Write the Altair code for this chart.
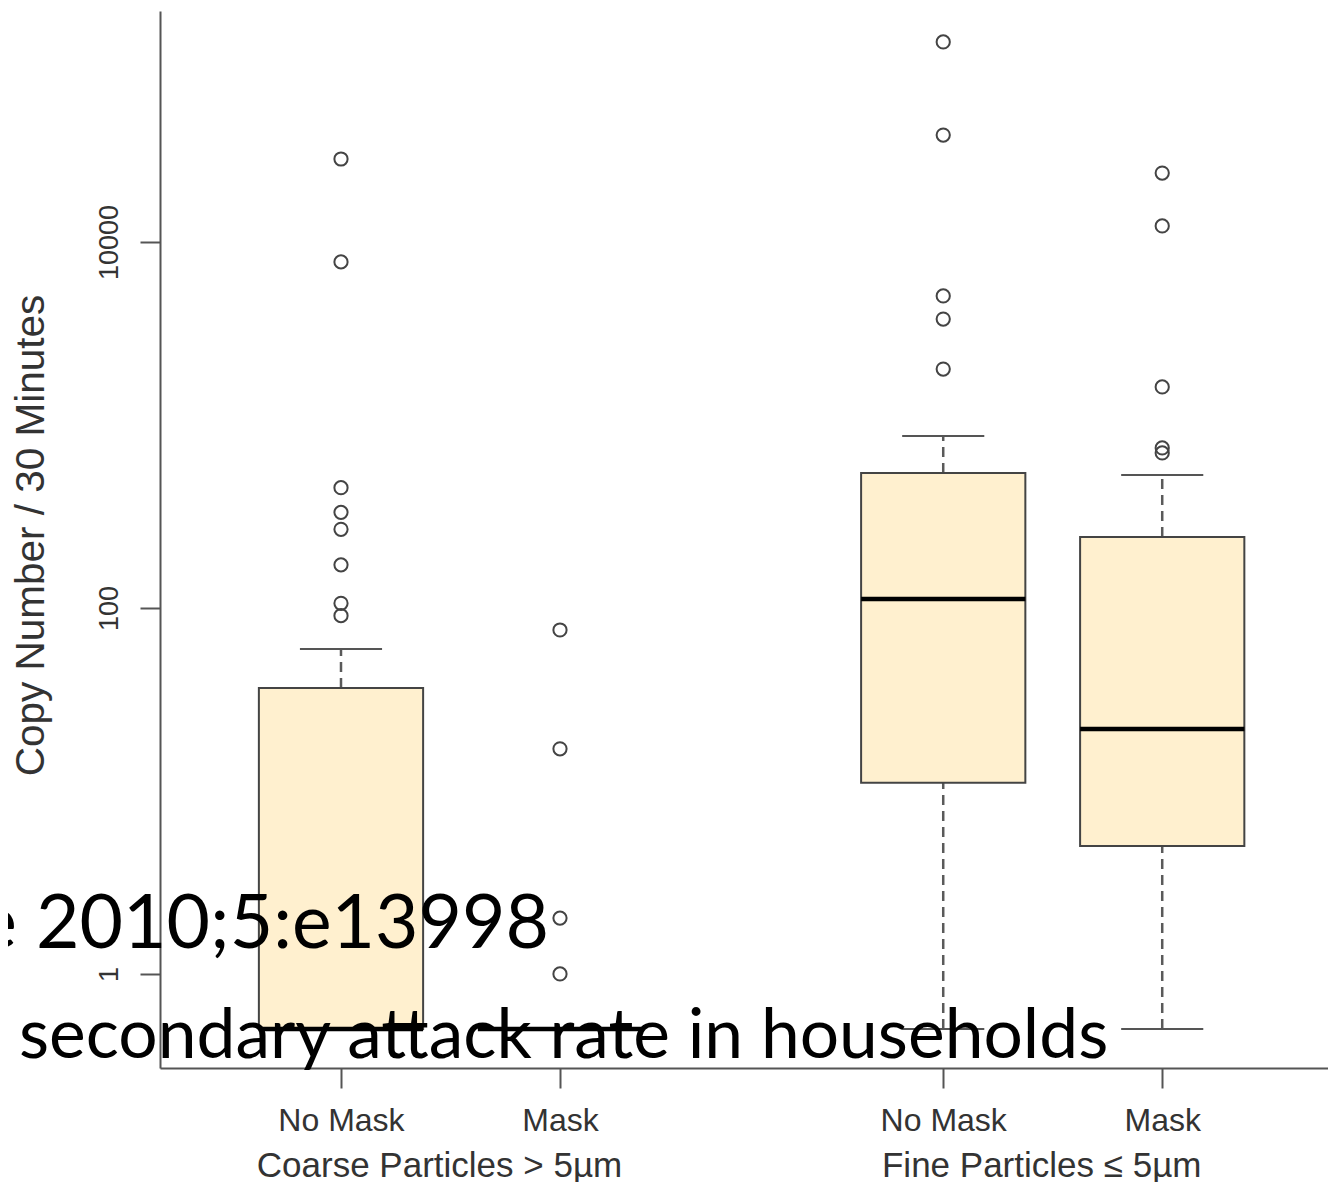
import altair as alt
import pandas as pd

# ---------------- data ----------------
groups = ["Coarse No Mask", "Coarse Mask", "Fine No Mask", "Fine Mask"]
positions = [1, 2, 3.75, 4.75]
tick_labels = ["No Mask", "Mask", "No Mask", "Mask"]
particle_labels = ["Coarse Particles > 5\u00b5m", "Fine Particles \u2264 5\u00b5m"]
particle_centers = [1.5, 4.25]

whisker_low = [0.5, 0.5, 0.5, 0.5]
q1 = [0.5, 0.5, 11.1, 5.0]
median = [0.5, 0.5, 112, 21.8]
q3 = [36.5, 0.5, 547, 244]
whisker_high = [59.7, 0.5, 871, 533]

outliers_coarse_nomask = [90.8, 106, 172, 269, 333, 454, 7780, 28400]
outliers_coarse_mask = [1.0, 2.02, 17.0, 75.8]
outliers_fine_nomask = [2020, 3790, 5070, 38400, 123900]
outliers_fine_mask = [703, 749, 1614, 12230, 23800]

y_ticks = [1, 100, 10000]
y_title = "Copy Number / 30 Minutes"
slide_lines = ["e 2010;5:e13998", "secondary attack rate in households"]

# ---------------- tables ----------------
box_df = pd.DataFrame({
    "group": groups, "pos": positions, "lo": whisker_low, "q1": q1,
    "med": median, "q3": q3, "hi": whisker_high,
})
out_rows = []
for p, vals in zip(positions, [outliers_coarse_nomask, outliers_coarse_mask,
                               outliers_fine_nomask, outliers_fine_mask]):
    for v in vals:
        out_rows.append({"pos": p, "value": v})
out_df = pd.DataFrame(out_rows)
grp_df = pd.DataFrame({"pos": particle_centers, "label": particle_labels})

# ---------------- scales / axes ----------------
label_expr = " : ".join(
    [f"datum.value == {p} ? '{t}'" for p, t in zip(positions[:-1], tick_labels[:-1])]
) + f" : '{tick_labels[-1]}'"

xscale = alt.Scale(domain=[0.1735, 5.507], nice=False, zero=False)
yscale = alt.Scale(type="log", domain=[0.3064, 182800], nice=False)

AX = "#555555"
xaxis = alt.Axis(values=positions, labelExpr=label_expr, title=None, grid=False,
                 tickSize=20, tickWidth=2, tickColor=AX, domainColor=AX, domainWidth=2,
                 labelFontSize=32, labelFont="Liberation Sans", labelColor="#333333",
                 labelPadding=17, labelFlush=False, labelOverlap=False)
yaxis = alt.Axis(values=y_ticks, format="d", title=y_title, grid=False,
                 tickSize=20, tickWidth=2, tickColor=AX, domainColor=AX, domainWidth=2,
                 labelFontSize=27, labelFont="Liberation Sans", labelColor="#333333",
                 labelAngle=270, labelAlign="center", labelBaseline="bottom",
                 labelPadding=17, labelFlush=False, labelOverlap=False,
                 titleFont="Liberation Sans", titleFontSize=40.5, titleFontWeight="normal",
                 titleColor="#333333", titleAngle=270, titleAlign="center",
                 titleBaseline="bottom", titleX=-108, titleY=524)

X = alt.X("pos:Q", scale=xscale, axis=xaxis)
XL = alt.X("xl:Q", scale=xscale, axis=xaxis)

base = alt.Chart(box_df)

whisk_lo = base.mark_rule(color="#5a5a5a", strokeWidth=2.5, strokeDash=[10, 6]).encode(
    x=X, y=alt.Y("lo:Q", scale=yscale, axis=yaxis), y2="q1:Q")
whisk_hi = base.mark_rule(color="#5a5a5a", strokeWidth=2.5, strokeDash=[10, 6]).encode(
    x=X, y=alt.Y("q3:Q", scale=yscale, axis=yaxis), y2="hi:Q")

caps = base.transform_calculate(
    xl="datum.pos - 0.1875", xr="datum.pos + 0.1875")
cap_lo = caps.mark_rule(color=AX, strokeWidth=2).encode(
    x=XL, x2="xr:Q", y=alt.Y("lo:Q", scale=yscale, axis=yaxis))
cap_hi = caps.mark_rule(color=AX, strokeWidth=2).encode(
    x=XL, x2="xr:Q", y=alt.Y("hi:Q", scale=yscale, axis=yaxis))

boxes = base.transform_calculate(
    xl="datum.pos - 0.375", xr="datum.pos + 0.375")
box = boxes.mark_rect(fill="#FFF0CF", stroke="#444444", strokeWidth=2).encode(
    x=XL, x2="xr:Q", y=alt.Y("q1:Q", scale=yscale, axis=yaxis), y2="q3:Q")
med = boxes.mark_rule(color="#000000", strokeWidth=4.5).encode(
    x=XL, x2="xr:Q", y=alt.Y("med:Q", scale=yscale, axis=yaxis))

pts = alt.Chart(out_df).mark_point(shape="circle", filled=False, size=175,
                                    color="#444444", strokeWidth=2, opacity=1).encode(
    x=X, y=alt.Y("value:Q", scale=yscale, axis=yaxis))

grp = alt.Chart(grp_df).mark_text(font="Liberation Sans", fontSize=35, color="#333333",
                                  baseline="alphabetic", align="center", dx=-11).encode(
    x=X, y=alt.value(1166), text="label:N")

slide1 = alt.Chart(pd.DataFrame({"t": [slide_lines[0]]})).mark_text(
    font="Lato", fontSize=75, color="#000000", align="right", baseline="alphabetic").encode(
    x=alt.value(389), y=alt.value(937), text="t:N")
slide2 = alt.Chart(pd.DataFrame({"t": [slide_lines[1]]})).mark_text(
    font="Lato", fontSize=69.5, color="#000000", align="left", baseline="alphabetic").encode(
    x=alt.value(-141), y=alt.value(1047), text="t:N")

chart = alt.layer(whisk_lo, whisk_hi, cap_lo, cap_hi, box, med, pts, grp, slide1, slide2).properties(
    width=1168, height=1057,
    padding={"left": 152, "top": 3, "right": 0, "bottom": 115},
    autosize=alt.AutoSizeParams(type="none"),
    background="white",
).configure_view(stroke=None)

chart.save("out.html", embed_options={"renderer": "svg", "actions": False})
